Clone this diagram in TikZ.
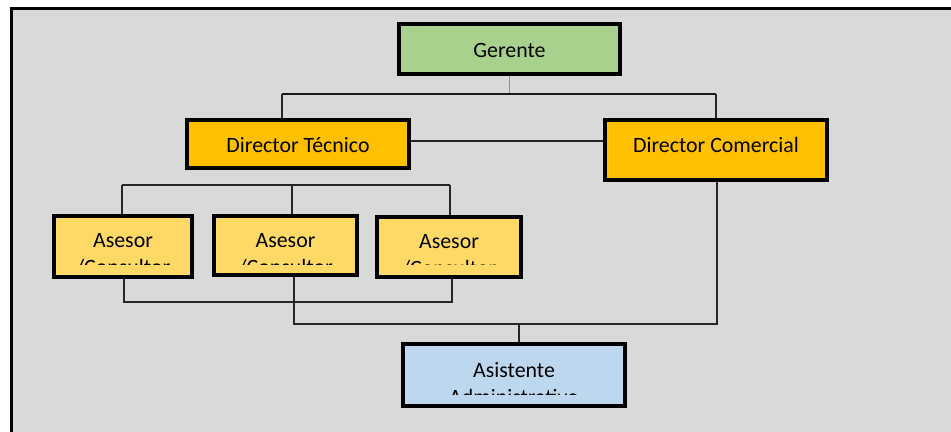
\documentclass[tikz,border=0pt]{standalone}
\usepackage{fontspec}
\setmainfont{Carlito}
\usepackage{tikz}
\definecolor{panel}{HTML}{D9D9D9}
\definecolor{boss}{HTML}{A9D18E}
\definecolor{chief}{HTML}{FFC000}
\definecolor{advisor}{HTML}{FFD966}
\definecolor{helper}{HTML}{BDD7EE}
\definecolor{tieblue}{HTML}{5B9BD5}

\begin{document}
\begin{tikzpicture}[x=0.75pt, y=-0.75pt,
    box/.style={rectangle, draw=black, line width=3pt, inner sep=0pt, font=\fontsize{16.4}{20.6}\selectfont, text height=12pt, text depth=0pt},
    lbl/.style={inner sep=0pt, align=center, anchor=north, font=\fontsize{16.4}{20.6}\selectfont},
    wire/.style={draw=black!85, line width=1.1pt},
    bus/.style={draw=black!90, line width=2.2pt},
    tie/.style={draw=tieblue, line width=1.3pt}]
    \useasboundingbox (0,0) rectangle (951,432);
    \fill[white] (0,0) rectangle (951,432);
    \fill[panel] (11.5,8.5) rectangle (951,432);
    \draw[line width=2.4pt] (11.5,432) -- (11.5,8.5) -- (951,8.5);

    \node at (509.5,49) [box, fill=boss, minimum width=165.75pt, minimum height=37.5pt] (ger) {Gerente};
    \node at (298,144) [box, fill=chief, minimum width=166.5pt, minimum height=36pt] (dt) {Director Técnico};
    \node at (716,150) [box, fill=chief, minimum width=166.5pt, minimum height=45pt, text depth=9pt] (dc) {Director Comercial};
    \node at (123,246.5) [box, fill=advisor, minimum width=103.5pt, minimum height=45.75pt] (a1) {};
    \node at (285.5,245.5) [box, fill=advisor, minimum width=107.25pt, minimum height=44.25pt] (a2) {};
    \node at (449,247) [box, fill=advisor, minimum width=108pt, minimum height=45pt] (a3) {};
    \node at (514,375) [box, fill=helper, minimum width=166.5pt, minimum height=46.5pt] (asi) {};

    \coordinate (cutA) at (0,264);
    \coordinate (cutB) at (0,394);
    \begin{scope}
        \clip (a1.north west) rectangle (a1.north east |- cutA);
        \node at (123,233) [lbl] (a1t) {Asesor\\/Consultor};
    \end{scope}
    \begin{scope}
        \clip (a2.north west) rectangle (a2.north east |- cutA);
        \node at (285.5,233) [lbl] (a2t) {Asesor\\/Consultor};
    \end{scope}
    \begin{scope}
        \clip (a3.north west) rectangle (a3.north east |- cutA);
        \node at (449,234) [lbl] (a3t) {Asesor\\/Consultor};
    \end{scope}
    \begin{scope}
        \clip (asi.north west) rectangle (asi.north east |- cutB);
        \node at (514,362) [lbl] (asit) {Asistente\\Administrativo};
    \end{scope}

    \coordinate (gbL) at (282,94);
    \coordinate (gbR) at (716,94);
    \draw[tie] (ger.south) -- (ger.south |- gbL);
    \draw[bus] (gbL) -- (gbR);
    \draw[wire] (gbL) -- (gbL |- dt.north);
    \draw[wire] (gbR) -- (gbR |- dc.north);

    \coordinate (mid) at (507,141);
    \draw[wire, line width=1.4pt] (mid -| dt.east) -- (mid -| dc.west);

    \coordinate (abL) at (122,185);
    \coordinate (abM) at (292,185);
    \coordinate (abR) at (450,185);
    \draw[wire] (abL) -- (abR);
    \draw[wire] (abL) -- (abL |- a1.north);
    \draw[wire] (abM) -- (abM |- a2.north);
    \draw[wire] (abR) -- (abR |- a3.north);

    \coordinate (lb1) at (124,302);
    \coordinate (lb3) at (452,302);
    \draw[wire] (lb1 |- a1.south) -- (lb1) -- (lb3) -- (lb3 |- a3.south);

    \coordinate (cb1) at (294,324);
    \coordinate (cb2) at (717,324);
    \coordinate (cbA) at (519,324);
    \draw[wire] (cb1 |- a2.south) -- (cb1) -- (cb2) -- (cb2 |- dc.south);
    \draw[wire] (cbA) -- (cbA |- asi.north);
\end{tikzpicture}
\end{document}
